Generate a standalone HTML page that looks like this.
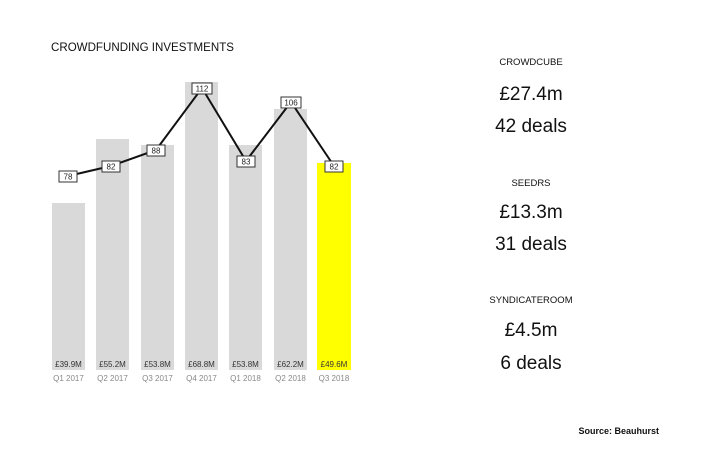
<!DOCTYPE html>
<html><head><meta charset="utf-8"><style>
body{margin:0;background:#fff;}
svg{display:block;font-family:"Liberation Sans","DejaVu Sans",sans-serif;}
</style></head><body>
<svg width="706" height="452" viewBox="0 0 706 452" xmlns="http://www.w3.org/2000/svg">
<rect width="706" height="452" fill="#fff"/>
<text x="51" y="51" font-size="11.5" fill="#111" textLength="183" lengthAdjust="spacingAndGlyphs">CROWDFUNDING INVESTMENTS</text>
<g fill="#d9d9d9">
<rect x="52" y="203" width="33" height="167"/>
<rect x="96" y="139" width="33" height="231"/>
<rect x="141" y="145" width="33" height="225"/>
<rect x="185" y="82" width="33" height="288"/>
<rect x="229" y="145" width="33" height="225"/>
<rect x="274" y="109" width="33" height="261"/>
<rect x="317" y="163" width="34" height="207" fill="#ffff00"/>
</g>
<g font-size="8" fill="#333" text-anchor="middle">
<text x="68.5" y="367">£39.9M</text><text x="112.5" y="367">£55.2M</text><text x="157.5" y="367">£53.8M</text><text x="201.5" y="367">£68.8M</text><text x="245.5" y="367">£53.8M</text><text x="290.5" y="367">£62.2M</text><text x="334" y="367">£49.6M</text>
</g>
<g font-size="8" fill="#888" text-anchor="middle">
<text x="68.5" y="381">Q1 2017</text><text x="112.5" y="381">Q2 2017</text><text x="157.5" y="381">Q3 2017</text><text x="201.5" y="381">Q4 2017</text><text x="245.5" y="381">Q1 2018</text><text x="290.5" y="381">Q2 2018</text><text x="334" y="381">Q3 2018</text>
</g>
<polyline points="68,176 111,166 156,150 202,88 246,161 291,102 334,166" fill="none" stroke="#111" stroke-width="2"/>
<g fill="#fff" stroke="#333" stroke-width="1">
<rect x="59" y="171" width="18" height="11"/><rect x="102" y="161" width="18" height="11"/><rect x="147" y="145" width="18" height="11"/><rect x="192" y="83" width="20" height="11"/><rect x="237" y="156" width="18" height="11"/><rect x="281" y="97" width="20" height="11"/><rect x="325" y="161" width="18" height="11"/>
</g>
<g font-size="8" fill="#222" text-anchor="middle">
<text x="68" y="179.5">78</text><text x="111" y="169.5">82</text><text x="156" y="153.5">88</text><text x="202" y="91.5">112</text><text x="246" y="164.5">83</text><text x="291" y="105.5">106</text><text x="334" y="169.5">82</text>
</g>
<g text-anchor="middle" fill="#111">
<text x="531" y="65" font-size="9.5">CROWDCUBE</text>
<text x="531" y="100" font-size="19">£27.4m</text>
<text x="531" y="132" font-size="19">42 deals</text>
<text x="531" y="186" font-size="9.5">SEEDRS</text>
<text x="531" y="218" font-size="19">£13.3m</text>
<text x="531" y="250" font-size="19">31 deals</text>
<text x="531" y="303" font-size="9.5">SYNDICATEROOM</text>
<text x="531" y="336" font-size="19">£4.5m</text>
<text x="531" y="369" font-size="19">6 deals</text>
</g>
<text x="659" y="434" font-size="9" font-weight="bold" fill="#111" text-anchor="end">Source: Beauhurst</text>
</svg>
</body></html>
